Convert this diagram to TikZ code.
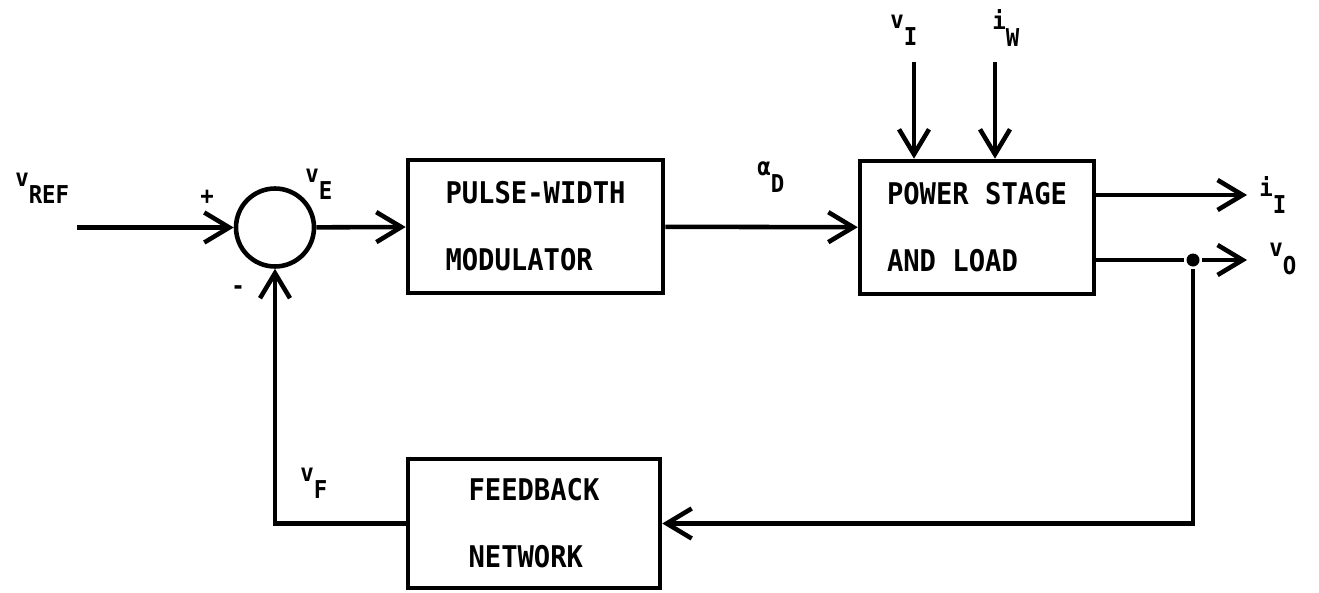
\documentclass[tikz,border=0pt]{standalone}
\usepackage{fontspec}
\newfontfamily\boxfont{DejaVu Sans Mono}[FakeStretch=0.91]
\usepackage{tikz}
\usetikzlibrary{arrows.meta,calc,positioning}
\newcommand{\sigl}[2]{#1\raisebox{-0.7em}{#2}}

\begin{document}
\begin{tikzpicture}[x=0.02cm, y=-0.02cm, line width=2.6pt,
    >={Straight Barb[length=5mm,width=6mm]},
    block/.style={draw, rectangle, align=left, font={\boxfont\bfseries\fontsize{17}{38}\selectfont}},
    sig/.style={font={\boxfont\bfseries\fontsize{14}{16}\selectfont}, anchor=west, inner sep=0pt}]
          \useasboundingbox (0,0) rectangle (1319,592);

          \node[draw, circle, minimum size=1.56cm, inner sep=0pt] (Sum) at (275,227.5) {};
          \node[block, minimum width=5.1cm, minimum height=2.66cm] (Modulator) at (535.5,226.5) {PULSE-WIDTH\\MODULATOR};
          \node[block, minimum width=4.68cm, minimum height=2.66cm] (Power) at (977,227.5) {POWER STAGE\\AND LOAD};
          \node[block, minimum width=5.04cm, minimum height=2.58cm] (Feedback) at (534,523.5) {FEEDBACK\\NETWORK};
          \node[circle, fill, inner sep=0pt, minimum size=0.26cm] (Tap) at (1193,260) {};

          \coordinate (Refin) at (77,227.5);
          \coordinate (VItop) at (914,62);
          \coordinate (IWtop) at (995,62);
          \coordinate (IIend) at (1247,195);
          \coordinate (VOend) at (1247,260);

          % signal labels
          \node[sig] (Vref) at (13,188) {\sigl{v}{REF}};
          \node[sig] (Ve) at (303,184) {\sigl{v}{E}};
          \node[sig] (Alpha) at (755,177) {\sigl{α}{D}};
          \node[sig] (Vi) at (888,30) {\sigl{v}{I}};
          \node[sig] (Iw) at (990,28) {\sigl{i}{W}};
          \node[sig] (Ii) at (1257,195) {\sigl{i}{I}};
          \node[sig] (Vo) at (1267,259) {\sigl{v}{O}};
          \node[sig] (Vf) at (298,483) {\sigl{v}{F}};
          \node[sig, anchor=center] (Plus) at (207,197) {+};
          \node[sig, anchor=center] (Minus) at (238,290) {-};

          \draw[->] (Refin) -- (Sum);
          \draw[->] (Sum) -- (Modulator);
          \draw[->] (Modulator) -- (Power);
          \draw[->] (VItop) -- (VItop |- Power.north);
          \draw[->] (IWtop) -- (IWtop |- Power.north);
          \draw[->] (IIend -| Power.east) -- (IIend);
          \draw (VOend -| Power.east) -- (Tap);
          \draw[->] (Tap) -- (VOend);
          \draw[->] (Tap) |- (Feedback.east);
          \draw[->] (Feedback.west) -| (Sum.south);
        \end{tikzpicture}
\end{document}
